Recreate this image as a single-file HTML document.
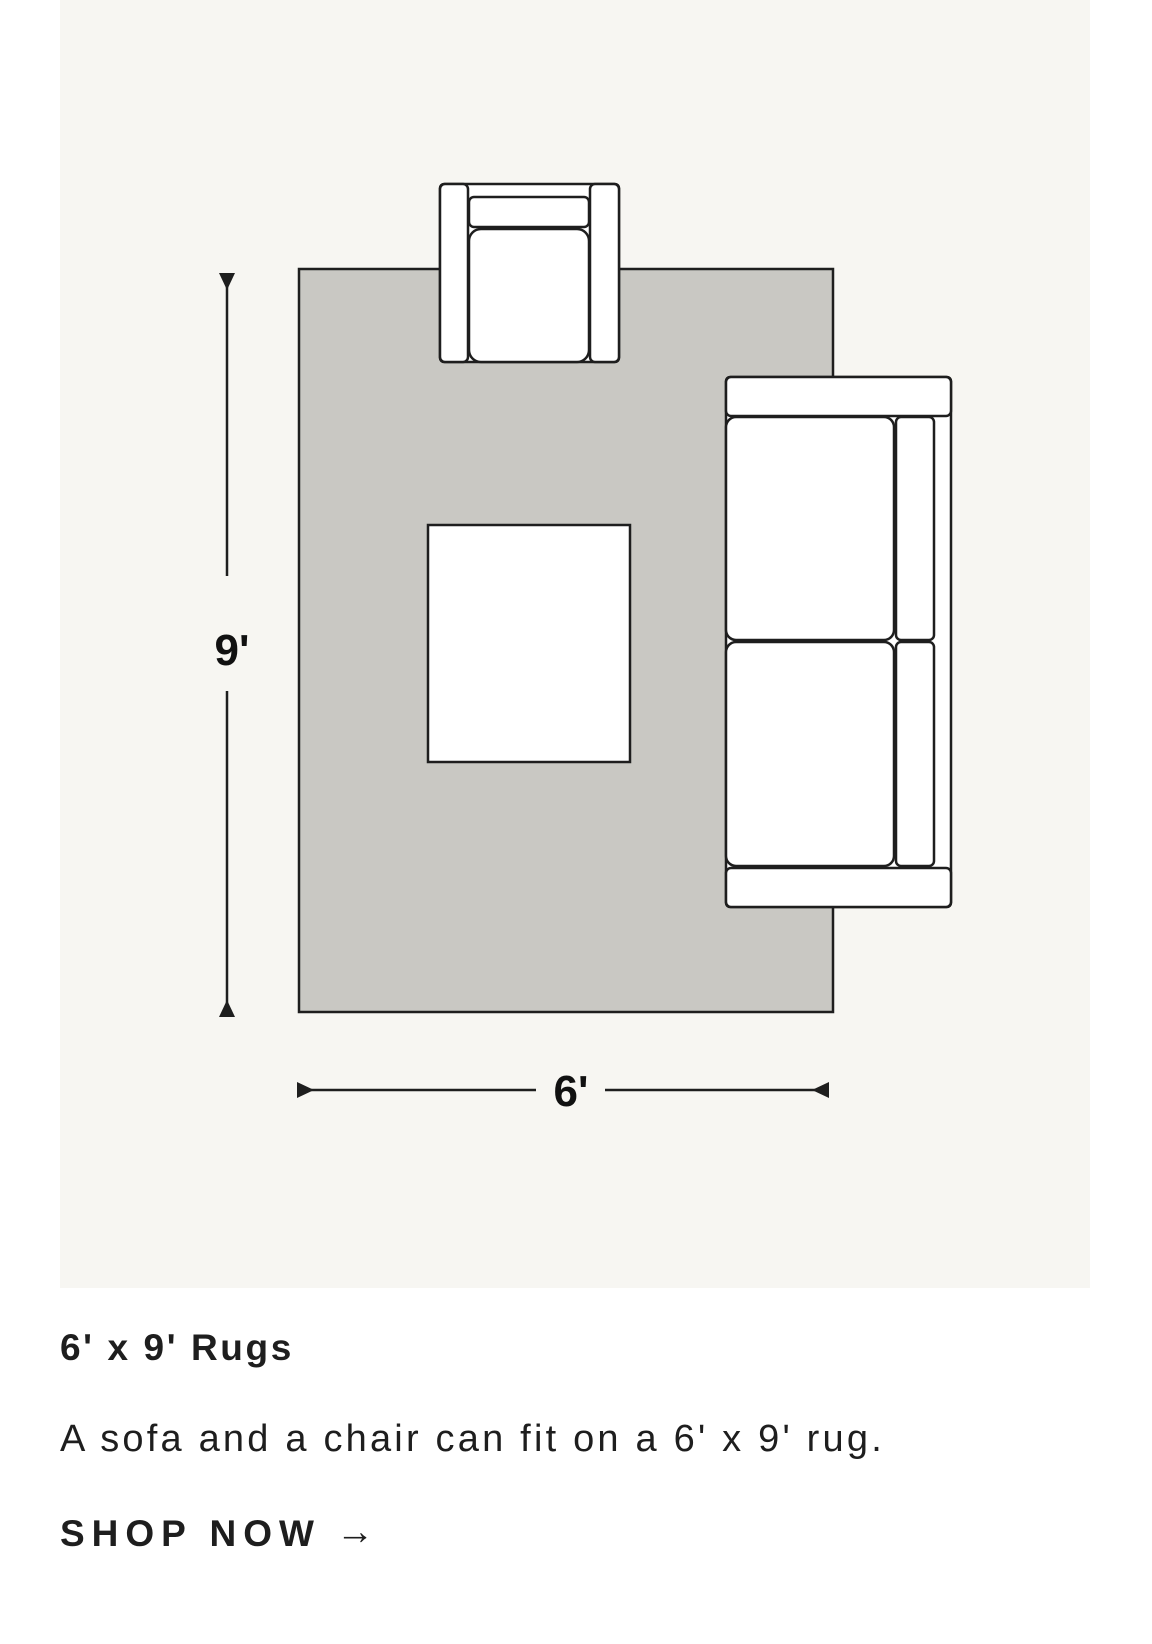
<!DOCTYPE html>
<html><head><meta charset="utf-8"><style>
html,body{margin:0;padding:0;background:#fff;width:1152px;height:1644px;overflow:hidden}
svg{display:block}
</style></head><body>
<svg width="1152" height="1644" viewBox="0 0 1152 1644" xmlns="http://www.w3.org/2000/svg">
<rect x="60" y="0" width="1030" height="1288" fill="#f7f6f2"/>
<rect x="299" y="269" width="534" height="743" fill="#c9c8c3" stroke="#1e1e1e" stroke-width="2.5"/>
<rect x="428" y="525" width="202" height="237" fill="#fff" stroke="#1e1e1e" stroke-width="2.5"/>
<g fill="#fff" stroke="#1e1e1e" stroke-width="2.5">
<rect x="440" y="184" width="179" height="178" rx="4"/>
<rect x="440" y="184" width="28" height="178" rx="5"/>
<rect x="590" y="184" width="29" height="178" rx="5"/>
<rect x="469" y="197" width="120" height="30" rx="5"/>
<rect x="469" y="229" width="120" height="133" rx="12"/>
</g>
<g fill="#fff" stroke="#1e1e1e" stroke-width="2.5">
<rect x="726" y="377" width="225" height="530" rx="4"/>
<rect x="726" y="377" width="225" height="39" rx="5"/>
<rect x="726" y="868" width="225" height="39" rx="5"/>
<rect x="726" y="417" width="168" height="223" rx="10"/>
<rect x="726" y="642" width="168" height="224" rx="10"/>
<rect x="896" y="417" width="38" height="223" rx="5"/>
<rect x="896" y="642" width="38" height="224" rx="5"/>
</g>
<g stroke="#1e1e1e" stroke-width="2.5">
<line x1="227" y1="276" x2="227" y2="576"/>
<line x1="227" y1="691" x2="227" y2="1014"/>
<line x1="297" y1="1090" x2="536" y2="1090"/>
<line x1="605" y1="1090" x2="829" y2="1090"/>
</g>
<polygon points="219,273 235,273 227,290" fill="#1e1e1e"/>
<polygon points="219,1017 235,1017 227,1000" fill="#1e1e1e"/>
<polygon points="297,1082 297,1098 314,1090" fill="#1e1e1e"/>
<polygon points="829,1082 829,1098 812,1090" fill="#1e1e1e"/>
<text x="232" y="665" text-anchor="middle" font-family="Liberation Sans, sans-serif" font-weight="bold" font-size="44" fill="#111">9'</text>
<text x="571" y="1106" text-anchor="middle" font-family="Liberation Sans, sans-serif" font-weight="bold" font-size="44" fill="#111">6'</text>
<text x="60" y="1360" font-family="Liberation Sans, sans-serif" font-weight="bold" font-size="37" letter-spacing="2.6" fill="#1e1e1e">6' x 9' Rugs</text>
<text x="60" y="1451" font-family="Liberation Sans, sans-serif" font-size="38" letter-spacing="3.2" fill="#1e1e1e">A sofa and a chair can fit on a 6' x 9' rug.</text>
<text x="60" y="1546" font-family="Liberation Sans, sans-serif" font-weight="bold" font-size="37" letter-spacing="7" fill="#1e1e1e">SHOP NOW</text>
<text x="336" y="1544" font-family="Liberation Sans, sans-serif" font-weight="bold" font-size="38" fill="#1e1e1e">→</text>
</svg>
</body></html>
